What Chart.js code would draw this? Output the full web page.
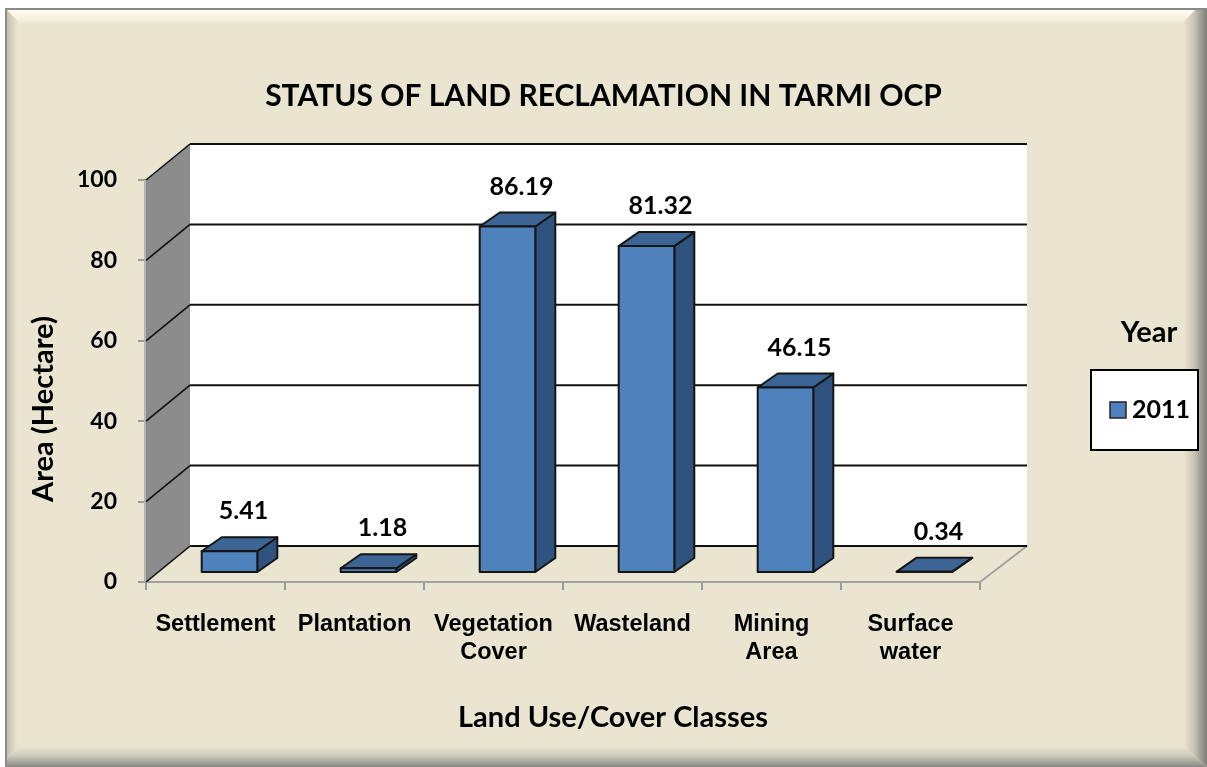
<!DOCTYPE html>
<html>
<head>
<meta charset="utf-8">
<title>Status of land reclamation in Tarmi OCP</title>
<script src="https://cdn.jsdelivr.net/npm/chart.js@4.4.1/dist/chart.umd.min.js"></script>
<style>
html, body { margin: 0; padding: 0; background: #fff; }
#wrap { width: 1207px; height: 767px; }
</style>
</head>
<body>
<div id="wrap"><canvas id="chart" width="1207" height="767"></canvas></div>
<script>
// data
var categories = ['Settlement', 'Plantation', ['Vegetation', 'Cover'], 'Wasteland', ['Mining', 'Area'], ['Surface', 'water']];
var area2011 = [5.41, 1.18, 86.19, 81.32, 46.15, 0.34];
var yTicks = [0, 20, 40, 60, 80, 100];
var seriesName = '2011';
var legendTitle = 'Year';
var chartTitle = 'STATUS OF LAND RECLAMATION IN TARMI OCP';
var xTitle = 'Land Use/Cover Classes';
var yTitle = 'Area (Hectare)';

var BG = '#EAE5D0';
var BAR_FRONT = '#4F81BD';
var BAR_TOP = '#3C6494';
var BAR_SIDE = '#2F527E';
var EDGE = '#151515';

// fake 3d: back wall offset and box offsets
var WALL_DX = 44, WALL_DY = -36;
var BOX_OX = 14, BOX_OY = -9;
var BOX_DX = 20, BOX_DY = -14;

function poly(ctx, pts, fill, stroke, lw) {
	ctx.beginPath();
	ctx.moveTo(pts[0][0], pts[0][1]);
	for (var i = 1; i < pts.length; i++) {
		ctx.lineTo(pts[i][0], pts[i][1]);
	}
	ctx.closePath();
	if (fill) {
		ctx.fillStyle = fill;
		ctx.fill();
	}
	if (stroke) {
		ctx.strokeStyle = stroke;
		ctx.lineWidth = lw || 1;
		ctx.lineJoin = 'round';
		ctx.stroke();
	}
}

function line(ctx, x1, y1, x2, y2, color, lw) {
	ctx.beginPath();
	ctx.moveTo(x1, y1);
	ctx.lineTo(x2, y2);
	ctx.strokeStyle = color;
	ctx.lineWidth = lw;
	ctx.stroke();
}

var framePlugin = {
	id: 'frame',
	beforeDraw: function(chart) {
		var ctx = chart.ctx;
		var W = chart.width, H = chart.height;
		var g;
		ctx.save();
		ctx.fillStyle = '#fff';
		ctx.fillRect(0, 0, W, H);
		ctx.fillStyle = BG;
		ctx.fillRect(5, 8, W - 5, H - 8);

		// top highlight
		g = ctx.createLinearGradient(0, 10, 0, 25);
		g.addColorStop(0, '#FFFDF2');
		g.addColorStop(0.5, '#F6F2E0');
		g.addColorStop(1, BG);
		poly(ctx, [[7, 10], [W - 12, 10], [W - 24, 23], [19, 23]], g);
		// left bevel
		g = ctx.createLinearGradient(7, 0, 18, 0);
		g.addColorStop(0, '#C4C1B0');
		g.addColorStop(1, BG);
		poly(ctx, [[7, 10], [19, 23], [19, H - 21], [7, H - 9]], g);
		// right shadow
		g = ctx.createLinearGradient(W - 24, 0, W, 0);
		g.addColorStop(0, BG);
		g.addColorStop(0.45, '#C9C6B6');
		g.addColorStop(1, '#7C7C76');
		poly(ctx, [[W - 12, 10], [W, 8], [W, H], [W - 24, H - 21], [W - 24, 23]], g);
		// bottom shadow
		g = ctx.createLinearGradient(0, H - 21, 0, H);
		g.addColorStop(0, BG);
		g.addColorStop(0.45, '#CFCCBC');
		g.addColorStop(1, '#8A8A84');
		poly(ctx, [[19, H - 21], [W - 24, H - 21], [W, H], [5, H], [7, H - 9]], g);

		// outer border lines
		line(ctx, 5, 9, W, 9, '#8A8A8A', 2);
		line(ctx, 6, 8, 6, H, '#8A8A8A', 2);
		ctx.restore();
	}
};

var box3dPlugin = {
	id: 'box3d',
	beforeDatasetsDraw: function(chart) {
		var ctx = chart.ctx;
		var a = chart.chartArea;
		var ys = chart.scales.y;
		var i, y;
		ctx.save();

		// back wall
		ctx.fillStyle = '#fff';
		ctx.fillRect(a.left + WALL_DX, a.top + WALL_DY, a.right - a.left + 3, a.bottom - a.top);
		// left side wall
		poly(ctx, [[a.left, a.bottom], [a.left, a.top], [a.left + WALL_DX, a.top + WALL_DY], [a.left + WALL_DX, a.bottom + WALL_DY]], '#8C8C8C');
		line(ctx, a.left - 1, a.top, a.left - 1, a.bottom, '#B4B4B4', 2);
		// floor
		poly(ctx, [[a.left, a.bottom], [a.right, a.bottom], [a.right + WALL_DX + 3, a.bottom + WALL_DY], [a.left + WALL_DX, a.bottom + WALL_DY]], BG, '#A2A2A2', 2);

		// gridlines on both walls
		for (i = 0; i < yTicks.length; i++) {
			y = ys.getPixelForValue(yTicks[i]);
			line(ctx, a.left, y, a.left + WALL_DX, y + WALL_DY, '#111', 1.6);
			line(ctx, a.left + WALL_DX, y + WALL_DY, a.right + WALL_DX + 3, y + WALL_DY, '#111', 2);
		}

		// the bars as boxes, positioned by the bar elements
		var meta = chart.getDatasetMeta(0);
		meta.data.forEach(function(el) {
			var L = el.x - el.width / 2 + BOX_OX;
			var R = el.x + el.width / 2 + BOX_OX;
			var T = el.y + BOX_OY;
			var B = el.base + BOX_OY;
			poly(ctx, [[R, B], [R + BOX_DX, B + BOX_DY], [R + BOX_DX, T + BOX_DY], [R, T]], BAR_SIDE, EDGE, 2);
			poly(ctx, [[L, T], [L + BOX_DX, T + BOX_DY], [R + BOX_DX, T + BOX_DY], [R, T]], BAR_TOP, EDGE, 2);
			poly(ctx, [[L, B], [L, T], [R, T], [R, B]], BAR_FRONT, EDGE, 2);
		});
		ctx.restore();
		return false;
	},
	afterDraw: function(chart) {
		var ctx = chart.ctx;
		var meta = chart.getDatasetMeta(0);
		ctx.save();
		ctx.fillStyle = '#000';
		ctx.textAlign = 'center';
		ctx.textBaseline = 'middle';

		// value labels
		ctx.font = 'bold 25px Lato';
		meta.data.forEach(function(el, i) {
			ctx.fillText(area2011[i].toFixed(2), el.x + 28, el.y - 49);
		});

		// axis titles
		ctx.font = 'bold 29px Lato';
		ctx.fillText(xTitle, 613, 718);
		ctx.save();
		ctx.translate(44, 409);
		ctx.rotate(-Math.PI / 2);
		ctx.fillText(yTitle, 0, 0);
		ctx.restore();

		// legend
		ctx.font = 'bold 29px Lato';
		ctx.fillText(legendTitle, 1149, 333);
		ctx.fillStyle = '#fff';
		ctx.fillRect(1091, 370, 107, 80);
		ctx.strokeStyle = '#000';
		ctx.lineWidth = 2;
		ctx.strokeRect(1091, 370, 107, 80);
		ctx.fillStyle = BAR_FRONT;
		ctx.fillRect(1110, 402, 16, 16);
		ctx.strokeStyle = '#222';
		ctx.lineWidth = 1.5;
		ctx.strokeRect(1110, 402, 16, 16);
		ctx.fillStyle = '#000';
		ctx.textAlign = 'left';
		ctx.font = 'bold 25px Lato';
		ctx.fillText(seriesName, 1132, 410);
		ctx.restore();
	}
};

var ctx = document.getElementById('chart').getContext('2d');
new Chart(ctx, {
	type: 'bar',
	data: {
		labels: categories,
		datasets: [{
			label: seriesName,
			data: area2011,
			backgroundColor: BAR_FRONT,
			borderColor: EDGE,
			barPercentage: 0.8,
			categoryPercentage: 0.5
		}]
	},
	options: {
		responsive: false,
		animation: false,
		devicePixelRatio: 1,
		layout: {padding: 0},
		plugins: {
			legend: {display: false},
			tooltip: {enabled: false},
			title: {
				display: true,
				text: chartTitle,
				color: '#000',
				font: {family: 'Lato', size: 30, weight: 'bold', lineHeight: 1.2},
				padding: {top: 78, bottom: 66}
			}
		},
		scales: {
			x: {
				grid: {display: true, drawOnChartArea: false, tickLength: 8, color: '#9A9A9A', lineWidth: 2},
				border: {display: false},
				ticks: {
					color: '#000',
					padding: 20,
					maxRotation: 0,
					autoSkip: false,
					font: {family: 'Liberation Sans', size: 23.5, weight: 'bold', lineHeight: 1.2}
				},
				afterFit: function(scale) { scale.height = 185; }
			},
			y: {
				min: 0,
				max: 100,
				grid: {display: true, drawOnChartArea: false, tickLength: 8, color: '#9A9A9A', lineWidth: 2},
				border: {display: false},
				afterBuildTicks: function(scale) {
					scale.ticks = yTicks.map(function(v) { return {value: v}; });
				},
				ticks: {
					color: '#000',
					padding: 21,
					font: {family: 'Lato', size: 23, weight: 'bold'}
				},
				afterFit: function(scale) { scale.width = 146; }
			},
			// empty right axis that keeps room for the depth and the legend
			yRight: {
				position: 'right',
				min: 0,
				max: 100,
				grid: {display: false},
				border: {display: false},
				ticks: {display: false},
				afterFit: function(scale) { scale.width = 227; }
			}
		}
	},
	plugins: [framePlugin, box3dPlugin]
});
</script>
</body>
</html>
